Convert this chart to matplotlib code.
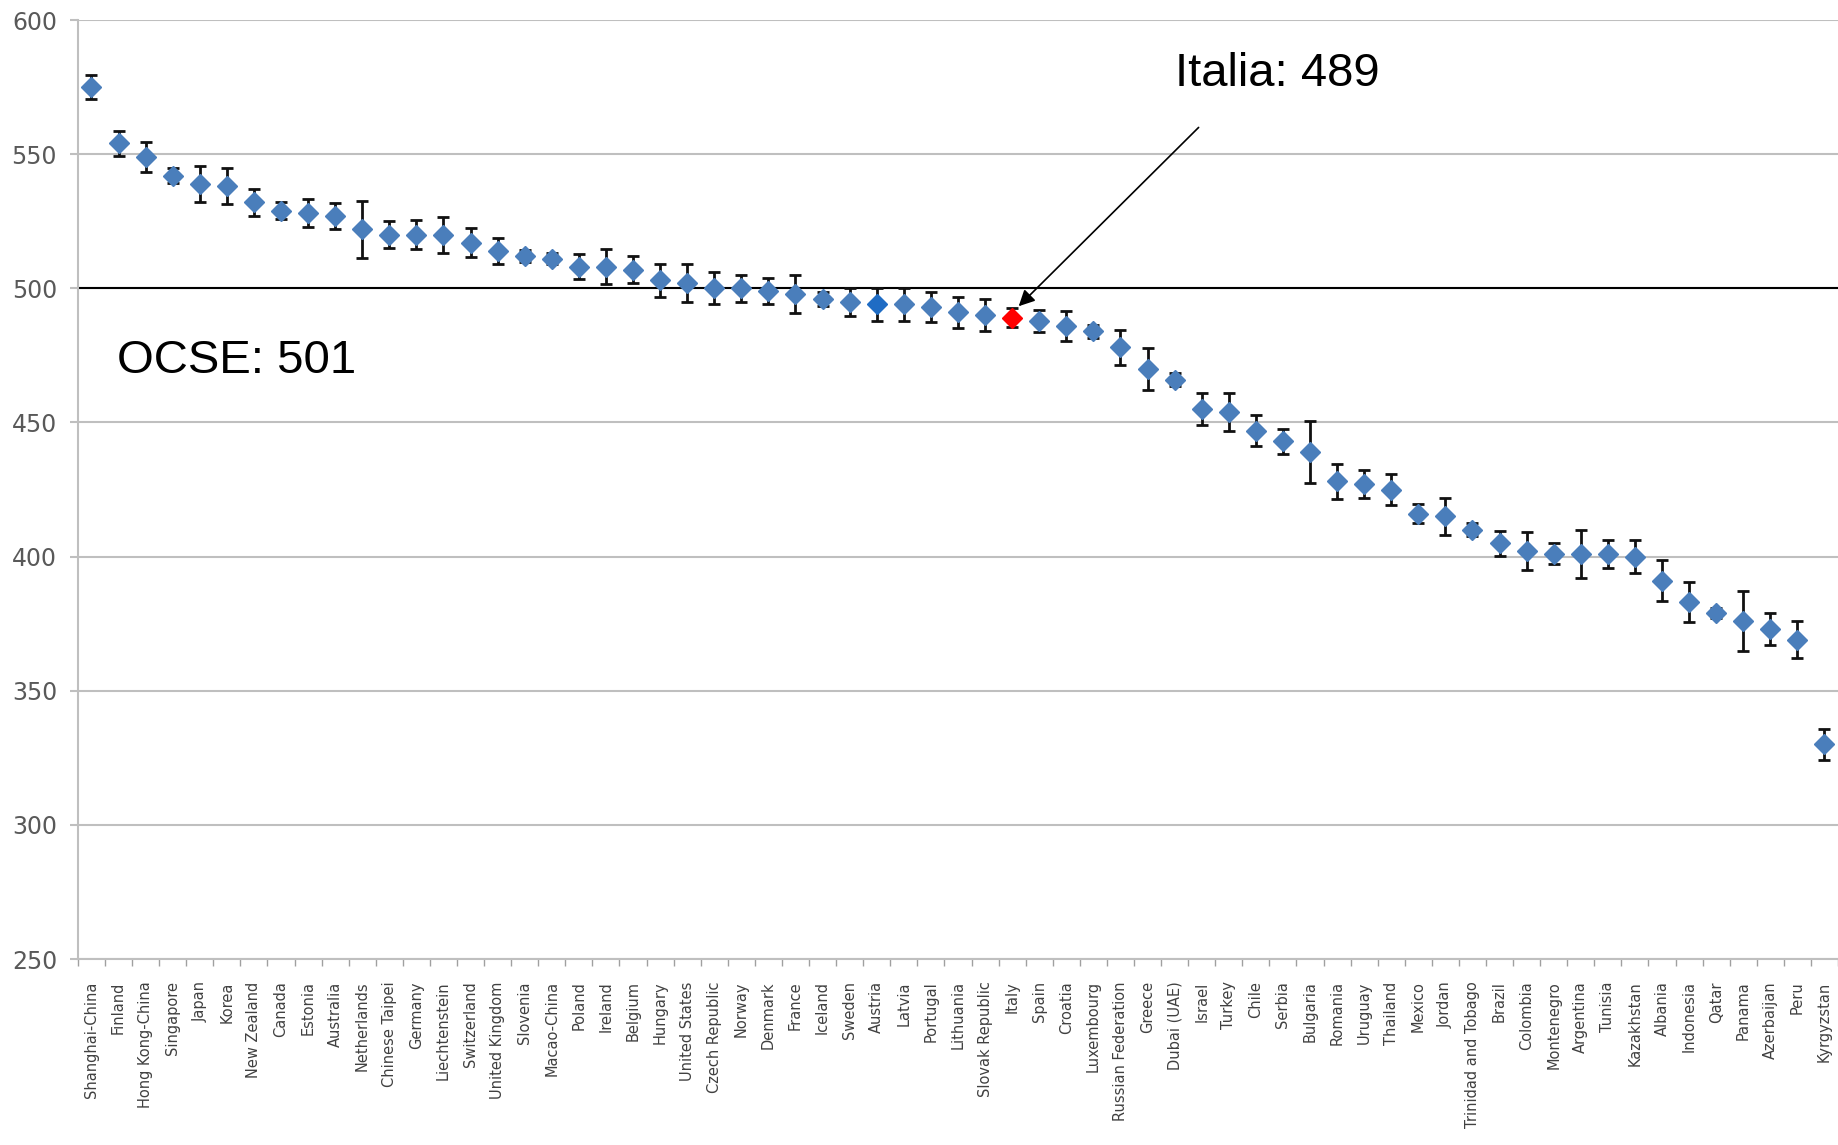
import matplotlib.pyplot as plt
import numpy as np

countries = ["Shanghai-China", "Finland", "Hong Kong-China", "Singapore", "Japan", "Korea",
             "New Zealand", "Canada", "Estonia", "Australia", "Netherlands", "Chinese Taipei",
             "Germany", "Liechtenstein", "Switzerland", "United Kingdom", "Slovenia", "Macao-China",
             "Poland", "Ireland", "Belgium", "Hungary", "United States", "Czech Republic", "Norway",
             "Denmark", "France", "Iceland", "Sweden", "Austria", "Latvia", "Portugal", "Lithuania",
             "Slovak Republic", "Italy", "Spain", "Croatia", "Luxembourg", "Russian Federation",
             "Greece", "Dubai (UAE)", "Israel", "Turkey", "Chile", "Serbia", "Bulgaria", "Romania",
             "Uruguay", "Thailand", "Mexico", "Jordan", "Trinidad and Tobago", "Brazil", "Colombia",
             "Montenegro", "Argentina", "Tunisia", "Kazakhstan", "Albania", "Indonesia", "Qatar",
             "Panama", "Azerbaijan", "Peru", "Kyrgyzstan"]

scores = [575, 554, 549, 542, 539, 538, 532, 529, 528, 527, 522, 520, 520, 520, 517, 514, 512, 511,
          508, 508, 507, 503, 502, 500, 500, 499, 498, 496, 495, 494, 494, 493, 491, 490, 489, 488,
          486, 484, 478, 470, 466, 455, 454, 447, 443, 439, 428, 427, 425, 416, 415, 410, 405, 402,
          401, 401, 401, 400, 391, 383, 379, 376, 373, 369, 330]

# half width of the error bars
err = [4.5, 4.5, 5.5, 2.7, 6.7, 6.7, 5.1, 3.1, 5.3, 4.9, 10.6, 5.1, 5.5, 6.7, 5.5, 4.9, 2.2, 2.0,
       4.7, 6.5, 4.9, 6.1, 7.1, 5.9, 5.1, 4.9, 7.1, 2.7, 5.3, 6.3, 6.1, 5.7, 5.7, 5.9, 3.5, 4.1,
       5.5, 2.4, 6.5, 7.8, 2.4, 6.1, 7.1, 5.7, 4.7, 11.6, 6.7, 5.1, 5.9, 3.5, 6.9, 2.4, 4.7, 7.1,
       3.9, 9.0, 5.3, 6.1, 7.6, 7.4, 1.8, 11.2, 6.1, 6.9, 5.7]

ocse = 501
italia = 489

blue = "#4a7ebb"
colors = [blue] * len(countries)
colors[countries.index("Italy")] = "#ff0000"
colors[countries.index("Austria")] = "#1f6cc4"

fig = plt.figure(figsize=(18.38, 11.45), dpi=100)
ax = fig.add_axes([0.0424, 0.1624, 0.9576, 0.8201])

x = np.arange(len(countries))
ax.errorbar(x, scores, yerr=err, fmt="none", ecolor="#111111", elinewidth=2,
            capsize=4, capthick=2, zorder=3)
for xi, yi, c in zip(x, scores, colors):
    ax.plot(xi, yi, marker="D", markersize=10.5, color=c, linestyle="none", zorder=4)

ax.set_xlim(-0.5, len(countries) - 0.5)
ax.set_ylim(250, 600)
ax.set_yticks(np.arange(250, 601, 50))
ax.grid(axis="y", color="#bfbfbf", linewidth=1.5, zorder=0)
ax.axhline(500, color="black", linewidth=1.5, zorder=2)

ax.set_xticks(x)
ax.set_xticklabels(countries, rotation=90, fontsize=10.5, color="#404040")
ax.set_xticks(np.arange(-0.5, len(countries), 1), minor=True)
ax.tick_params(axis="x", which="major", length=0, pad=16)
ax.tick_params(axis="x", which="minor", length=5, color="#a0a0a0", width=1)
ax.tick_params(axis="y", length=6, color="#bfbfbf", width=1.5, labelsize=17,
               labelcolor="#595959", pad=9)

for s in ["top", "right"]:
    ax.spines[s].set_visible(False)
ax.spines["left"].set_color("#bfbfbf")
ax.spines["left"].set_linewidth(1.5)
ax.spines["bottom"].set_color("#bfbfbf")
ax.spines["bottom"].set_linewidth(1.5)

ax.text(0.95, 473, "OCSE: %d" % ocse, fontsize=34, family="Liberation Sans",
        va="center", ha="left")
ax.text(43.8, 580, "Italia: %d" % italia, fontsize=34, family="Liberation Sans",
        va="center", ha="center")
ax.annotate("", xy=(34.17, 492.6), xytext=(40.96, 560.7),
            arrowprops=dict(arrowstyle="-|>", color="black", lw=1.2, mutation_scale=24))

plt.savefig("out.png", dpi=100)
